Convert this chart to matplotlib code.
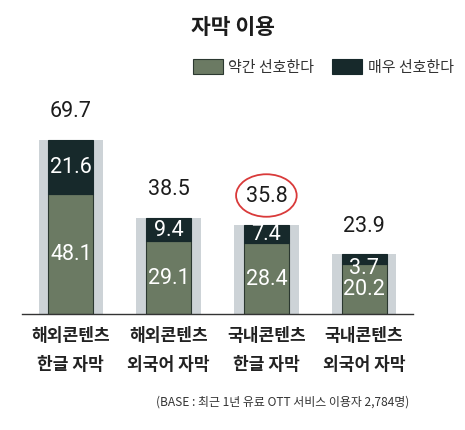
import matplotlib
matplotlib.use("Agg")
import matplotlib.pyplot as plt
from matplotlib.patches import Ellipse, Rectangle

plt.rcParams['font.family'] = ['Noto Sans CJK KR', 'DejaVu Sans']

categories = ["해외콘텐츠\n한글 자막", "해외콘텐츠\n외국어 자막", "국내콘텐츠\n한글 자막", "국내콘텐츠\n외국어 자막"]
somewhat = [48.1, 29.1, 28.4, 20.2]
very = [21.6, 9.4, 7.4, 3.7]
totals = [69.7, 38.5, 35.8, 23.9]
legend_labels = ["약간 선호한다", "매우 선호한다"]
title = "자막 이용"
footnote = "(BASE : 최근 1년 유료 OTT 서비스 이용자 2,784명)"
highlight_index = 2

GREEN = "#6b7a63"
DARK = "#17292b"
GREY = "#cdd3d7"
NUMFONT = ["Roboto", "DejaVu Sans"]

fig = plt.figure(figsize=(4.65, 4.31), dpi=100)
ax = fig.add_axes([22/465, (431-315)/431, 391/465, 200/431])

x = list(range(len(categories)))
ax.bar(x, totals, width=0.66, color=GREY, zorder=1)
ax.bar(x, somewhat, width=0.46, color=GREEN, edgecolor="#2b3830", linewidth=0.8, zorder=2)
ax.bar(x, very, width=0.46, bottom=somewhat, color=DARK, edgecolor=DARK, linewidth=0.8, zorder=2)

for i in x:
    ax.annotate(f"{totals[i]}", (i, totals[i]), xytext=(0, 21), textcoords="offset points",
                ha="center", va="center", fontsize=15.5, color="#1c1c1c", family=NUMFONT)
    ax.text(i, somewhat[i] / 2, f"{somewhat[i]}", ha="center", va="center", fontsize=15.5,
            color="white", family=NUMFONT, zorder=3)
    if very[i] > 5:
        ax.text(i, somewhat[i] + very[i] / 2, f"{very[i]}", ha="center", va="center",
                fontsize=15.5, color="white", family=NUMFONT, zorder=3)
    else:
        ax.annotate(f"{very[i]}", (i, somewhat[i] + very[i]), xytext=(0, -2),
                    textcoords="offset points", ha="center", va="top", fontsize=15.5,
                    color="white", family=NUMFONT, zorder=3)

# red circle around highlighted total
h = highlight_index
cy = totals[h] + 29 / 2.5
ax.add_patch(Ellipse((h, cy), width=0.62, height=17, fill=False, edgecolor="#d93a3a",
                     linewidth=1.3, clip_on=False, zorder=4))

ax.set_xlim(-0.5, 3.5)
ax.set_ylim(0, 80)
ax.set_xticks(x)
ax.set_xticklabels(categories, fontsize=12.3, fontweight="bold", color="#222222", linespacing=1.75)
ax.tick_params(axis="x", length=0, pad=9)
ax.set_yticks([])
for s in ["top", "left", "right"]:
    ax.spines[s].set_visible(False)
ax.spines["bottom"].set_color("#333333")
ax.spines["bottom"].set_linewidth(1.0)

# title
fig.text(233/465, 1 - 27/431, title, ha="center", va="center", fontsize=15.5, fontweight="bold",
         color="#1c1c1c")

# legend (manual)
W, H = 465, 431
fig.patches.append(Rectangle((193/W, 1 - 75/H), 30/W, 15/H, transform=fig.transFigure,
                             facecolor=GREEN, edgecolor="#2b3830", linewidth=0.8))
fig.text(228/W, 1 - 68/H, legend_labels[0], ha="left", va="center", fontsize=10.8, color="#333333")
fig.patches.append(Rectangle((332/W, 1 - 75/H), 30/W, 15/H, transform=fig.transFigure,
                             facecolor=DARK, edgecolor=DARK, linewidth=0.8))
fig.text(368/W, 1 - 68/H, legend_labels[1], ha="left", va="center", fontsize=10.8, color="#333333")

# footnote
fig.text(409/W, 1 - 402/H, footnote, ha="right", va="center", fontsize=8.6, color="#333333")

fig.savefig("out.png", dpi=100, facecolor="white")
